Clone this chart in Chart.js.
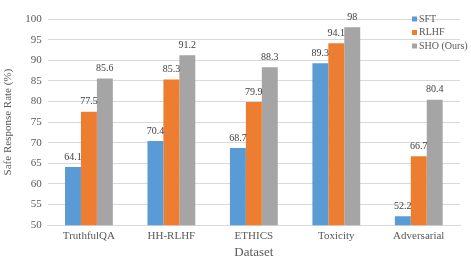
<!DOCTYPE html>
<html>
<head>
<meta charset="utf-8">
<script src="https://cdn.jsdelivr.net/npm/chart.js@4"></script>
<style>
  html, body { margin: 0; padding: 0; background: #fff; }
  #wrap { width: 471px; height: 266px; }
</style>
</head>
<body>
<div id="wrap"><canvas id="c"></canvas></div>
<script>
const datasets = ["TruthfulQA", "HH-RLHF", "ETHICS", "Toxicity", "Adversarial"];
const sft = [64.1, 70.4, 68.7, 89.3, 52.2];
const rlhf = [77.5, 85.3, 79.9, 94.1, 66.7];
const sho = [85.6, 91.2, 88.3, 98, 80.4];
const seriesNames = ["SFT", "RLHF", "SHO (Ours)"];
const colors = ["#5B9BD5", "#ED7D31", "#A5A5A5"];

const FONT = "'Liberation Serif', 'Times New Roman', serif";

// value labels above each bar
const barLabels = {
  id: "barLabels",
  afterDatasetsDraw(chart) {
    const ctx = chart.ctx;
    ctx.save();
    ctx.font = "10px " + FONT;
    ctx.fillStyle = "#404040";
    ctx.textAlign = "center";
    ctx.textBaseline = "bottom";
    chart.data.datasets.forEach((ds, i) => {
      chart.getDatasetMeta(i).data.forEach((bar, j) => {
        ctx.fillText(String(ds.data[j]), bar.x, bar.y - 5);
      });
    });
    ctx.restore();
  }
};

// legend drawn inside plot, top right
const insideLegend = {
  id: "insideLegend",
  afterDraw(chart) {
    const ctx = chart.ctx;
    const x = chart.chartArea.right - 48;
    const y0 = chart.chartArea.top;
    ctx.save();
    ctx.font = "10px " + FONT;
    ctx.textBaseline = "middle";
    ctx.textAlign = "left";
    chart.data.datasets.forEach((ds, i) => {
      const y = y0 + i * 13.5;
      ctx.fillStyle = ds.backgroundColor;
      ctx.fillRect(x, y - 2.5, 5, 5);
      ctx.fillStyle = "#595959";
      ctx.fillText(ds.label, x + 7, y);
    });
    ctx.restore();
  }
};

new Chart(document.getElementById("c"), {
  type: "bar",
  data: {
    labels: datasets,
    datasets: [
      { label: seriesNames[0], data: sft, backgroundColor: colors[0] },
      { label: seriesNames[1], data: rlhf, backgroundColor: colors[1] },
      { label: seriesNames[2], data: sho, backgroundColor: colors[2] }
    ]
  },
  options: {
    responsive: true,
    maintainAspectRatio: false,
    animation: false,
    layout: { padding: { top: 19, right: 11, left: 2, bottom: 6 } },
    datasets: { bar: { barPercentage: 1, categoryPercentage: 0.58 } },
    scales: {
      x: {
        grid: { display: false, drawTicks: false },
        border: { color: "#D9D9D9" },
        ticks: { color: "#595959", font: { family: FONT, size: 11 }, padding: 4 },
        title: { display: true, text: "Dataset", color: "#595959", font: { family: FONT, size: 13 }, padding: { top: -2, bottom: 0 } }
      },
      y: {
        min: 50,
        max: 100,
        ticks: { stepSize: 5, color: "#595959", font: { family: FONT, size: 11 }, padding: 6 },
        grid: { color: "#D9D9D9", drawTicks: false },
        border: { display: false },
        title: { display: true, text: "Safe Response Rate (%)", color: "#595959", font: { family: FONT, size: 11 }, padding: { top: 0, bottom: 4 } }
      }
    },
    plugins: {
      legend: { display: false },
      tooltip: { enabled: false }
    }
  },
  plugins: [barLabels, insideLegend]
});
</script>
</body>
</html>
